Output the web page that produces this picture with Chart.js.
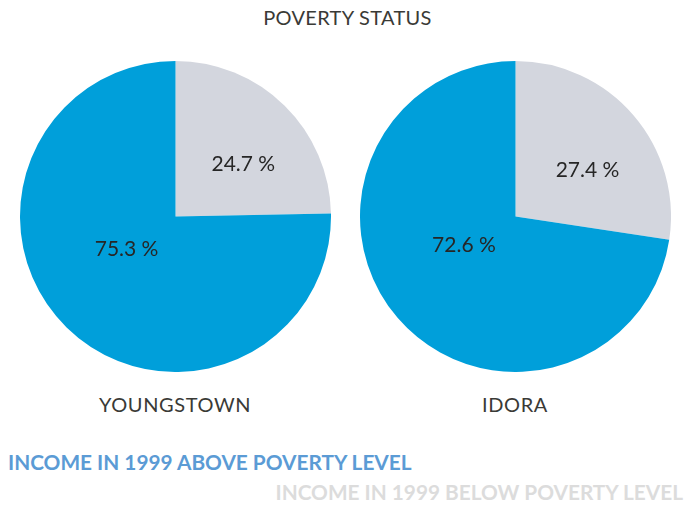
<!DOCTYPE html>
<html>
<head>
<meta charset="utf-8">
<script src="https://cdn.jsdelivr.net/npm/chart.js@4"></script>
<style>
  body { margin: 0; background: #fff; font-family: Lato, sans-serif; }
  #wrap { position: relative; width: 695px; height: 505px; overflow: hidden; }
  .pie { position: absolute; top: 61px; width: 311px; height: 311px; }
  .txt { position: absolute; white-space: nowrap; color: #3a3a36; }
  #title { left: 0; width: 695px; top: 5px; text-align: center; font-size: 20px; letter-spacing: 0.3px; }
  .place { top: 392px; width: 310px; text-align: center; font-size: 20px; letter-spacing: 0.6px; }
  .leg { font-weight: bold; font-size: 20.8px; }
  #legA { left: 8px; top: 449px; color: #5b9bd5; }
  #legB { right: 12px; top: 479px; color: #dcdcdc; }
</style>
</head>
<body>
<div id="wrap">
  <div id="title" class="txt">POVERTY STATUS</div>
  <div class="pie" style="left:20px"><canvas id="pie0"></canvas></div>
  <div class="pie" style="left:360px"><canvas id="pie1"></canvas></div>
  <div class="txt place" style="left:20px" id="place0"></div>
  <div class="txt place" style="left:360px" id="place1"></div>
  <div id="legA" class="txt leg"></div>
  <div id="legB" class="txt leg"></div>
</div>
<script>
const places = ['YOUNGSTOWN', 'IDORA'];
const categories = ['INCOME IN 1999 BELOW POVERTY LEVEL', 'INCOME IN 1999 ABOVE POVERTY LEVEL'];
const belowPoverty = [24.7, 27.4];
const abovePoverty = [75.3, 72.6];

const colors = ['#d3d6de', '#009fda'];

document.getElementById('legA').textContent = categories[1];
document.getElementById('legB').textContent = categories[0];

// slice labels, placed roughly like excel's best fit
const sliceLabels = {
    id: 'sliceLabels',
    afterDatasetsDraw(chart) {
        const ctx = chart.ctx;
        const meta = chart.getDatasetMeta(0);
        ctx.save();
        ctx.font = '21px Lato, sans-serif';
        ctx.fillStyle = '#262626';
        ctx.textAlign = 'center';
        ctx.textBaseline = 'middle';
        meta.data.forEach((arc, i) => {
            const p = arc.getProps(['x', 'y', 'startAngle', 'endAngle', 'outerRadius']);
            let mid = (p.startAngle + p.endAngle) / 2 + 0.14;
            let r = p.outerRadius * 0.55;
            if (i === 1) { mid += 0.06; r = p.outerRadius * 0.38; }
            const val = chart.data.datasets[0].data[i];
            ctx.fillText(val.toFixed(1) + ' %', p.x + Math.cos(mid) * r, p.y + Math.sin(mid) * r);
        });
        ctx.restore();
    }
};

places.forEach((place, i) => {
    document.getElementById('place' + i).textContent = place;
    new Chart(document.getElementById('pie' + i), {
        type: 'pie',
        data: {
            labels: [categories[0], categories[1]],
            datasets: [{
                data: [belowPoverty[i], abovePoverty[i]],
                backgroundColor: colors,
                borderWidth: 0
            }]
        },
        options: {
            responsive: true,
            maintainAspectRatio: false,
            animation: false,
            layout: { padding: 0 },
            plugins: {
                legend: { display: false },
                tooltip: { enabled: false }
            }
        },
        plugins: [sliceLabels]
    });
});
</script>
</body>
</html>
